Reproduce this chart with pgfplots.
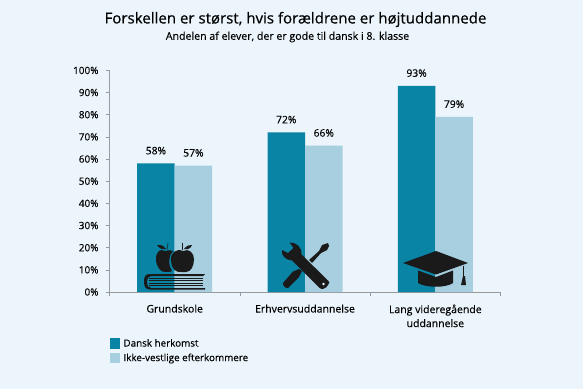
\documentclass[border=0pt]{standalone}
\usepackage{fontspec}
\setmainfont[FakeBold=0.15]{Open Sans}
\newfontfamily\ttl[FakeBold=0.4]{Open Sans}
\usepackage{pgfplots}
\pgfplotsset{compat=1.18}
\definecolor{bgc}{HTML}{EBF5FB}
\definecolor{dk}{HTML}{0A84A5}
\definecolor{lt}{HTML}{A8CFDF}
\definecolor{ax}{HTML}{9A9A9A}
\definecolor{ic}{HTML}{1A1A1A}
\begin{document}
\begin{tikzpicture}[x=1pt,y=1pt]
\fill[bgc] (0,0) rectangle (583,389);
\useasboundingbox (0,0) rectangle (583,389);
\begin{axis}[
  at={(109.5pt,97pt)},anchor=origin,
  scale only axis,width=391pt,height=221.6pt,
  xmin=0,xmax=3,ymin=0,ymax=100,
  axis line style={ax,line width=0.7pt},
  axis x line=bottom,axis y line=left,
  x axis line style={-},y axis line style={-},
  tick style={ax,line width=0.6pt},
  tick align=outside,major tick length=4pt,
  xtick={0,1,2,3},xticklabels={},
  extra x ticks={0.5,1.5,2.5},
  extra x tick labels={Grundskole,Erhvervsuddannelse,{Lang videregående\\uddannelse}},
  extra x tick style={major tick length=0pt,tick style={draw=none},
     ticklabel style={align=center,font=\fontsize{10.5}{14}\selectfont,yshift=-9pt}},
  ytick={0,10,...,100},
  yticklabel={\pgfmathprintnumber{\tick}\%},
  /pgf/number format/assume math mode=true,
  yticklabel style={font=\fontsize{10}{12}\selectfont,xshift=-3.5pt},
  ybar,
  bar width=37.5pt,
  nodes near coords={\pgfmathprintnumber{\pgfplotspointmeta}\%},
  nodes near coords style={font=\fontsize{10.3}{12}\selectfont,text=black,yshift=5.5pt},
  legend style={at={(0,-0.208)},anchor=north west,draw=none,fill=none,
     font=\fontsize{9.85}{12}\selectfont,row sep=4pt,inner sep=0pt,outer sep=0pt,
     nodes={inner sep=0pt}},
  legend cell align=left,
  clip=false,
]
\addplot[bar shift=-18.75pt,fill=dk,draw=none,
  legend image code/.code={\fill[dk] (0,-5pt) rectangle (10.5pt,5.5pt);\path (14pt,0);}]
  coordinates {(0.5,58) (1.5,72) (2.5,93)};
\addlegendentry{Dansk herkomst}
\addplot[bar shift=18.75pt,fill=lt,draw=none,
  legend image code/.code={\fill[lt] (0,-5pt) rectangle (10.5pt,5.5pt);\path (14pt,0);}]
  coordinates {(0.5,57) (1.5,66) (2.5,79)};
\addlegendentry{Ikke-vestlige efterkommere}
\end{axis}
\node[font=\ttl\fontsize{15.05}{18}\selectfont] at (295.5,369.5) {Forskellen er størst, hvis forældrene er højtuddannede};
\node[font=\fontsize{10.6}{12}\selectfont] at (287.5,352) {Andelen af elever, der er gode til dansk i 8. klasse};
% icons, in pixel coordinates (y downward)
\begin{scope}[yscale=-1,yshift=-389pt]
 % apples
 \fill[ic] (165,251) .. controls (160,248) and (156,252) .. (156,259) .. controls (156,267) and (161,273) .. (166,272) .. controls (169,272) and (171,272) .. (172,271) .. controls (168,265) and (168,256) .. (173,251) .. controls (171,250) and (168,250) .. (165,251) -- cycle;
 \fill[ic] (183,251) .. controls (176,248) and (170,253) .. (171,261) .. controls (171,268) and (176,273) .. (181,272) .. controls (183,272) and (184,272) .. (186,272) .. controls (191,272) and (194,266) .. (194,259) .. controls (194,253) and (189,248) .. (183,251) -- cycle;
 \draw[ic,line width=0.5pt] (167,250) -- (168,243);
 \draw[ic,line width=0.5pt] (182,250) -- (182,243);
 \fill[ic] (166,249) .. controls (162,244) and (160,245) .. (157,245) .. controls (159,248) and (162,250) .. (166,249) -- cycle;
 \fill[ic] (184,249) .. controls (187,245) and (190,245) .. (192,245) .. controls (191,248) and (188,250) .. (184,249) -- cycle;
 % book
 \fill[ic] (205,274) -- (150,274) .. controls (145,274) and (144,277) .. (144,282) .. controls (144,287) and (146,289.5) .. (150,289.5) -- (205,289.5) -- (205,288) -- (151,288) .. controls (148,288) and (147,285) .. (147,282) .. controls (147,279) and (148,276) .. (151,276) -- (203,276) -- cycle;
 \foreach \y in {278,280.5,283,285.5}{\draw[ic,line width=0.7pt] (149,\y) -- (203,\y);}
 % wrench + screwdriver
 \fill[ic] (289.5,242.5) -- (293.5,248) -- (288,253) -- (282,250) .. controls (281,255) and (285,260) .. (292,260.5) -- (319,287.5) .. controls (322,290) and (324,289) .. (326,287.5) -- (328,285) .. controls (330,283) and (329.5,281.5) .. (328,280.5) -- (301.5,254.5) .. controls (302,247) and (296,242) .. (289.5,242.5) -- cycle;
 \fill[bgc] (323.5,284) circle (1.3);
 \fill[ic] (328,243) -- (322,245) -- (319,251) -- (309,260) -- (312,263) -- (321,253) -- (327,250) -- (329,246) -- cycle;
 \fill[ic] (299,269) -- (293,271.5) -- (283,283) .. controls (282,285) and (286,289) .. (288,288) -- (299,277) -- (302,271) -- cycle;
 % cap
 \fill[ic] (403,263) -- (436,251) -- (468,263) -- (436,274.5) -- cycle;
 \fill[ic] (418,270.5) -- (436,277) -- (453,270.5) -- (453,283) .. controls (446,288) and (426,288) .. (418,283) -- cycle;
 \draw[ic,line width=0.8pt] (463.7,266) -- (463.7,278);
 \fill[ic] (463,276) -- (465,276) -- (466,285) -- (461,285) -- cycle;
\end{scope}
\end{tikzpicture}
\end{document}
